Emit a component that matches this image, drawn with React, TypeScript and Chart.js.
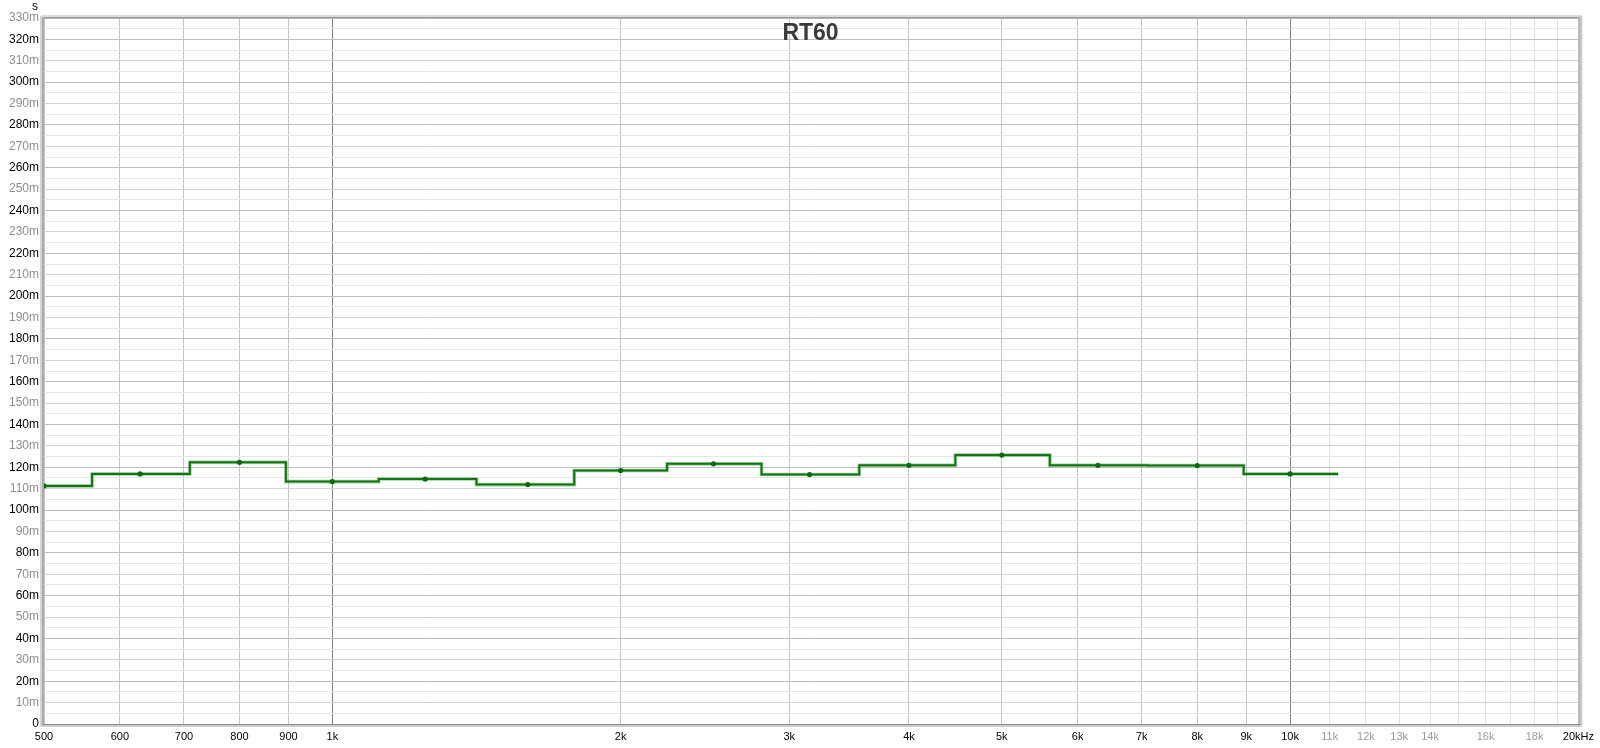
import React, { useEffect, useRef } from "react";
import { Chart, registerables } from "chart.js";

Chart.register(...registerables);

// ---- data ----
const chartTitle = "RT60";
const yUnit = "s";
const bandCenters = [500, 630, 800, 1000, 1250, 1600, 2000, 2500, 3150, 4000, 5000, 6300, 8000, 10000];
const rt60ms = [111.3, 116.9, 122.3, 113.3, 114.5, 111.9, 118.5, 121.6, 116.6, 120.9, 125.7, 120.9, 120.8, 116.9];
const xTickValues = [500, 600, 700, 800, 900, 1000, 2000, 3000, 4000, 5000, 6000, 7000, 8000, 9000, 10000, 11000, 12000, 13000, 14000, 15000, 16000, 17000, 18000, 19000, 20000];
const xTickLabels = ["500", "600", "700", "800", "900", "1k", "2k", "3k", "4k", "5k", "6k", "7k", "8k", "9k", "10k", "11k", "12k", "13k", "14k", "", "16k", "", "18k", "", "20kHz"];
const xMin = 500;
const xMax = 20000;
const yMin = 0;
const yMax = 330;
const yStep = 5;

// band edges: geometric mean between neighbouring band centres
function stepPoints() {
  const pts: { x: number; y: number }[] = [];
  const n = bandCenters.length;
  for (let i = 0; i < n; i++) {
    const lo = i === 0 ? bandCenters[0] / Math.pow(2, 1 / 6) : Math.sqrt(bandCenters[i - 1] * bandCenters[i]);
    const hi = i === n - 1 ? bandCenters[n - 1] * Math.pow(2, 1 / 6) : Math.sqrt(bandCenters[i] * bandCenters[i + 1]);
    pts.push({ x: lo, y: rt60ms[i] });
    pts.push({ x: hi, y: rt60ms[i] });
  }
  return pts;
}

const FONT = "'Liberation Sans', Arial, sans-serif";

const framePlugin = {
  id: "frame",
  beforeDatasetsDraw(chart: any) {
    const { ctx, chartArea } = chart;
    const { left, right, top, bottom } = chartArea;
    ctx.save();
    // top border
    ctx.fillStyle = "#dcdcdc";
    ctx.fillRect(left - 3, top - 3, right - left + 6, 2);
    ctx.fillStyle = "#9a9a9a";
    ctx.fillRect(left - 1, top - 1, right - left + 2, 1.5);
    // right border (shadow)
    ctx.fillStyle = "#d0d0d0";
    ctx.fillRect(right, top - 2, 4, bottom - top + 4);
    ctx.fillStyle = "#b4b4b4";
    ctx.fillRect(right, top - 1, 2, bottom - top + 2);
    // left border
    ctx.fillStyle = "#d4d4d4";
    ctx.fillRect(left - 4, top - 2, 2, bottom - top + 4);
    ctx.fillStyle = "#a8a8a8";
    ctx.fillRect(left - 2, top - 1, 2, bottom - top + 2);
    // bottom border
    ctx.fillStyle = "#8c8c8c";
    ctx.fillRect(left - 2, bottom, right - left + 4, 1.5);
    ctx.fillStyle = "#cfcfcf";
    ctx.fillRect(left - 3, bottom + 1.5, right - left + 6, 1.5);
    ctx.restore();
  },
  afterDraw(chart: any) {
    const { ctx, chartArea } = chart;
    ctx.save();
    ctx.fillStyle = "#3a3a3a";
    ctx.font = `bold 23px ${FONT}`;
    ctx.textAlign = "center";
    ctx.textBaseline = "middle";
    ctx.fillText(chartTitle, 810.5, 33.5);
    ctx.fillStyle = "#000";
    ctx.font = `12px ${FONT}`;
    ctx.fillText(yUnit, chartArea.left - 9, 7);
    ctx.restore();
  },
};

export default function App() {
  const ref = useRef<HTMLCanvasElement | null>(null);
  useEffect(() => {
    document.body.style.margin = "0";
    const canvas = ref.current!;
    const chart = new Chart(canvas, {
      type: "line",
      data: {
        datasets: [
          {
            label: "RT60 points",
            data: bandCenters.map((f, i) => ({ x: f, y: rt60ms[i] })),
            showLine: false,
            pointRadius: 2.6,
            pointBackgroundColor: "#0b6a0b",
            pointBorderColor: "#0b6a0b",
            pointBorderWidth: 0,
          },
          {
            label: "RT60",
            data: stepPoints(),
            borderColor: "#127412",
            borderWidth: 2,
            pointRadius: 0,
            tension: 0,
            fill: false,
          },
          {
            label: "RT60 halo",
            data: stepPoints(),
            borderColor: "rgba(80,170,80,0.55)",
            borderWidth: 3.6,
            pointRadius: 0,
            tension: 0,
            fill: false,
          },
        ],
      },
      options: {
        animation: false,
        responsive: false,
        events: [],
        layout: { padding: { top: 18, right: 21, left: 0, bottom: 0 } },
        plugins: { legend: { display: false }, tooltip: { enabled: false }, title: { display: false } },
        scales: {
          x: {
            type: "logarithmic",
            min: xMin,
            max: xMax,
            afterBuildTicks: (scale: any) => {
              scale.ticks = xTickValues.map((v) => ({ value: v }));
            },
            afterFit: (scale: any) => {
              scale.height = 24;
            },
            border: { display: false },
            grid: {
              drawTicks: false,
              lineWidth: 1,
              color: (ctx: any) => {
                const v = ctx.tick ? ctx.tick.value : 0;
                if (v === 1000 || v === 10000) return "#7f7f7f";
                if (v > 10000) return "#e0e0e0";
                return "#c6c6c6";
              },
            },
            ticks: {
              autoSkip: false,
              maxRotation: 0,
              minRotation: 0,
              padding: 6,
              font: { family: FONT, size: 11 },
              color: (ctx: any) => {
                const v = ctx.tick ? ctx.tick.value : 0;
                if (v > 10000 && v < 20000) return "#9a9a9a";
                return "#000";
              },
              callback: (_v: any, i: number) => xTickLabels[i],
            },
          },
          y: {
            type: "linear",
            min: yMin,
            max: yMax,
            afterFit: (scale: any) => {
              scale.width = 44;
            },
            border: { display: false },
            grid: {
              drawTicks: false,
              lineWidth: 1,
              color: (ctx: any) => {
                const v = ctx.tick ? Math.round(ctx.tick.value) : 0;
                if (v % 20 === 0) return "#bdbdbd";
                if (v % 10 === 0) return "#d2d2d2";
                return "#e6e6e6";
              },
            },
            ticks: {
              stepSize: yStep,
              autoSkip: false,
              padding: 5,
              font: { family: FONT, size: 12 },
              color: (ctx: any) => {
                const v = ctx.tick ? Math.round(ctx.tick.value) : 0;
                return v % 20 === 0 ? "#000" : "#8e8e8e";
              },
              callback: (v: any) => {
                const n = Math.round(Number(v));
                if (n % 10 !== 0) return "";
                return n === 0 ? "0" : `${n}m`;
              },
            },
          },
        },
      },
      plugins: [framePlugin],
    });
    return () => chart.destroy();
  }, []);
  return (
    <canvas
      ref={ref}
      width={1600}
      height={748}
      style={{ display: "block", width: 1600, height: 748 }}
    />
  );
}
